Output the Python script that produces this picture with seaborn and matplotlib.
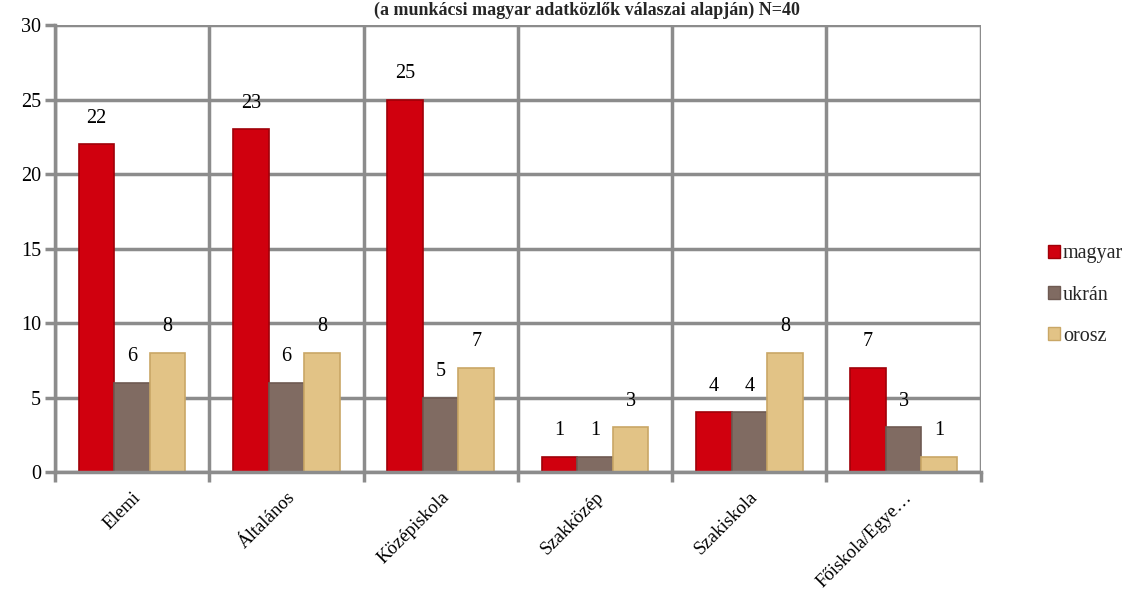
import matplotlib
matplotlib.use("Agg")
import matplotlib.pyplot as plt
import seaborn as sns
import pandas as pd
import numpy as np
from matplotlib.patches import Patch

categories = ["Elemi", "Általános", "Középiskola", "Szakközép", "Szakiskola", "Főiskola/Egye…"]
series_names = ["magyar", "ukrán", "orosz"]
magyar = [22, 23, 25, 1, 4, 7]
ukran = [6, 6, 5, 1, 4, 3]
orosz = [8, 8, 7, 3, 8, 1]
title = "(a munkácsi magyar adatközlők válaszai alapján) N=40"

sns.set_theme(style="white")
plt.rcParams['font.family'] = ['Liberation Serif', 'DejaVu Serif']

rows = []
for name, vals in zip(series_names, [magyar, ukran, orosz]):
    for c, v in zip(categories, vals):
        rows.append({"cat": c, "series": name, "value": v})
df = pd.DataFrame(rows)

colors = {"magyar": "#D0000E", "ukrán": "#806B62", "orosz": "#E2C386"}
edges = {"magyar": "#A00008", "ukrán": "#6E5A52", "orosz": "#C9A766"}

fig = plt.figure(figsize=(11.29, 5.96), dpi=100)
ax = fig.add_axes([0.0487, 0.208, 0.82, 0.75])
sns.barplot(data=df, x="cat", y="value", hue="series", palette=colors,
            order=categories, hue_order=series_names, width=0.69, ax=ax,
            legend=False, saturation=1)

for container, name in zip(ax.containers, series_names):
    for bar in container:
        bar.set_edgecolor(edges[name])
        bar.set_linewidth(1.2)
    ax.bar_label(container, labels=[str(int(v)) for v in container.datavalues],
                 padding=12, fontsize=14.5, color="black")

ax.set_ylim(0, 30)
ax.set_xlim(-0.5, len(categories) - 0.5)
ax.set_yticks(np.arange(0, 31, 5))
ax.set_xticks(np.arange(-0.5, len(categories), 1.0), minor=True)
ax.yaxis.grid(True, color="#8C8C8C", linewidth=2.5)
ax.xaxis.grid(True, which="minor", color="#8C8C8C", linewidth=2.5)
ax.set_axisbelow(True)
for s in ["top", "right"]:
    ax.spines[s].set_visible(False)
for s in ["left", "bottom"]:
    ax.spines[s].set_color("#8C8C8C")
    ax.spines[s].set_linewidth(2.5)
ax.tick_params(axis="y", which="major", left=True, length=7, width=2.5, color="#8C8C8C",
               labelsize=14.5, pad=3, labelcolor="black")
ax.tick_params(axis="x", which="major", bottom=False, labelsize=13.5, pad=6, labelcolor="black")
ax.tick_params(axis="x", which="minor", bottom=True, length=7, width=2.5, color="#8C8C8C")
ax.set_xticks(range(len(categories)))
ax.set_xticklabels(categories, rotation=45, ha="right", rotation_mode="anchor")
ax.set_xlabel("")
ax.set_ylabel("")

handles = [Patch(facecolor=colors[n], edgecolor=edges[n], label=n) for n in series_names]
fig.legend(handles=handles, loc="center left", bbox_to_anchor=(0.912, 0.505),
           frameon=False, fontsize=14.5, handlelength=0.6, handleheight=0.6,
           handletextpad=0.15, labelspacing=1.1)

fig.text(0.52, 0.983, title, ha="center", va="center", fontsize=13, fontweight="bold")

fig.savefig("out.png", dpi=100)
